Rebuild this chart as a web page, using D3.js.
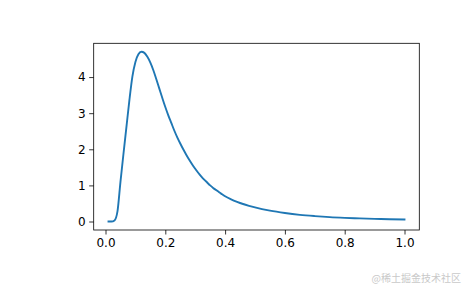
<!DOCTYPE html>
<html>
<head>
<meta charset="utf-8">
<script src="https://cdn.jsdelivr.net/npm/d3@7"></script>
<style>
  html, body { margin: 0; padding: 0; background: #fff; }
  svg { display: block; }
</style>
</head>
<body>
<svg id="chart" width="465" height="288"></svg>
<script>
const xValues = [0.01,0.02,0.03,0.04,0.05,0.06,0.07,0.08,0.09,0.10,
  0.11,0.12,0.13,0.14,0.15,0.16,0.17,0.18,0.19,0.20,
  0.21,0.22,0.23,0.24,0.25,0.26,0.27,0.28,0.29,0.30,
  0.31,0.32,0.33,0.34,0.35,0.36,0.37,0.38,0.39,0.40,
  0.42,0.44,0.46,0.48,0.50,0.55,0.60,0.65,0.70,0.75,
  0.80,0.85,0.90,0.95,1.00];
const yValues = [0.00,0.00,0.03,0.28,1.10,1.87,2.62,3.37,4.02,4.42,
  4.63,4.70,4.67,4.56,4.40,4.19,3.94,3.68,3.42,3.17,
  2.94,2.73,2.52,2.33,2.16,2.00,1.85,1.71,1.58,1.46,
  1.35,1.25,1.16,1.08,1.00,0.93,0.87,0.81,0.755,0.70,
  0.615,0.545,0.485,0.435,0.39,0.30,0.235,0.185,0.150,0.122,
  0.102,0.086,0.073,0.063,0.055];
const xTicks = [0.0, 0.2, 0.4, 0.6, 0.8, 1.0];
const yTicks = [0, 1, 2, 3, 4];
const watermark = "@稀土掘金技术社区";

(function () {
const svg = d3.select("#chart");
const mLeft = 93.7, mRight = 419.3, mTop = 43.3, mBottom = 230;

const xMin = d3.min(xValues), xMax = d3.max(xValues);
const yMin = d3.min(yValues), yMax = d3.max(yValues);
const xPad = (xMax - xMin) * 0.05, yPad = (yMax - yMin) * 0.05;

const x = d3.scaleLinear().domain([xMin - xPad, xMax + xPad]).range([mLeft, mRight]);
const y = d3.scaleLinear().domain([yMin - yPad, yMax + yPad]).range([mBottom, mTop]);

const font = "DejaVu Sans";

const xAxis = svg.append("g")
  .attr("transform", `translate(0,${mBottom})`)
  .call(d3.axisBottom(x).tickValues(xTicks).tickFormat(d3.format(".1f")).tickSize(4.5).tickPadding(3.5));
const yAxis = svg.append("g")
  .attr("transform", `translate(${mLeft},0)`)
  .call(d3.axisLeft(y).tickValues(yTicks).tickFormat(d3.format("d")).tickSize(4.5).tickPadding(3.5));

[xAxis, yAxis].forEach(g => {
  g.select(".domain").remove();
  g.selectAll(".tick line").attr("stroke", "#000").attr("stroke-width", 0.8);
  g.selectAll(".tick text").attr("fill", "#000").style("font-family", font).style("font-size", "12px");
});

const data = xValues.map((d, i) => [d, yValues[i]]);
const line = d3.line().x(d => x(d[0])).y(d => y(d[1])).curve(d3.curveMonotoneX);

svg.append("path")
  .datum(data)
  .attr("d", line)
  .attr("fill", "none")
  .attr("stroke", "#1f77b4")
  .attr("stroke-width", 1.9)
  .attr("stroke-linejoin", "round")
  .attr("stroke-linecap", "square");

svg.append("rect")
  .attr("x", mLeft).attr("y", mTop)
  .attr("width", mRight - mLeft).attr("height", mBottom - mTop)
  .attr("fill", "none").attr("stroke", "#000").attr("stroke-width", 0.8);

svg.append("text")
  .attr("x", 461).attr("y", 282)
  .attr("text-anchor", "end")
  .attr("fill", "#c9c9c9")
  .style("font-family", "Noto Sans CJK SC")
  .style("font-size", "10px")
  .text(watermark);
})();
</script>
</body>
</html>
